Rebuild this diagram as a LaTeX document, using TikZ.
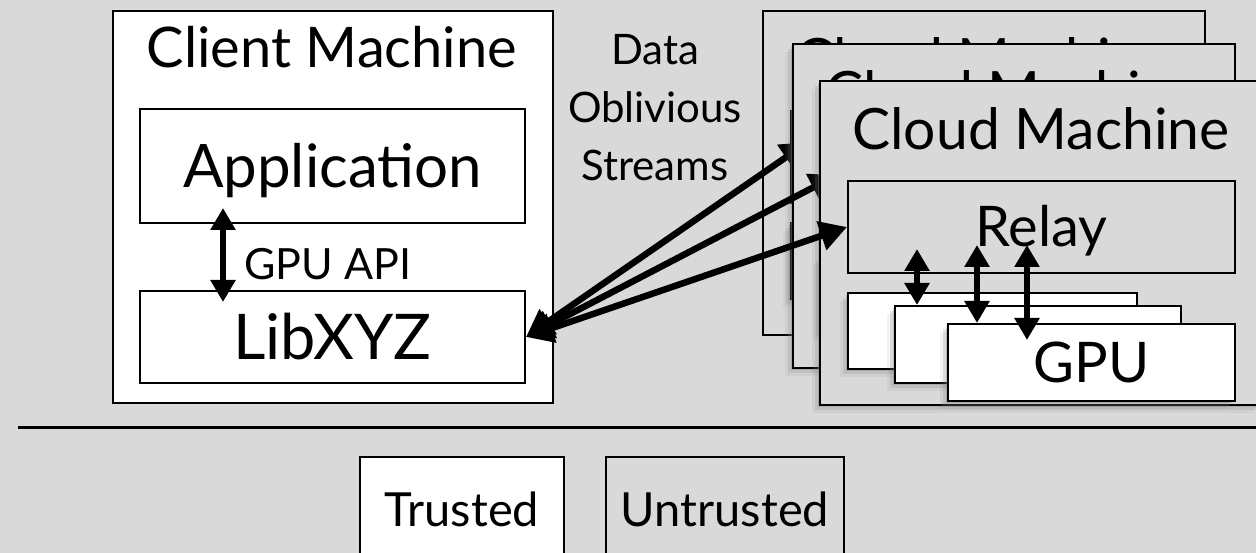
\documentclass[tikz,border=0pt]{standalone}
\usepackage{fontspec}
\setmainfont{Lato}
\usepackage{tikz}
\usetikzlibrary{arrows.meta,shadows,positioning}
\definecolor{bggray}{HTML}{D9D9D9}

\tikzset{
    box/.style={draw, line width=2pt, inner sep=0pt, anchor=north west},
    trusted/.style={box, fill=white},
    untrusted/.style={box, fill=bggray},
    softshadow/.style={
        drop shadow={shadow xshift=-2pt, shadow yshift=-2pt, opacity=.35},
        drop shadow={shadow xshift=-5pt, shadow yshift=-5pt, opacity=.2},
        drop shadow={shadow xshift=-8pt, shadow yshift=-8pt, opacity=.1}},
    noshadow/.style={},
    link/.style={line width=6pt, {Triangle[length=22pt,width=24pt]}-{Triangle[length=22pt,width=24pt]}},
    stream/.style={line width=6.5pt, {Triangle[length=27pt,width=29pt]}-{Triangle[length=27pt,width=29pt]}},
    capc/.style={text height=#1, text depth=0pt},
    titlefont/.style={font=\fontsize{56}{60}\selectfont},
    cloudfont/.style={font=\fontsize{57}{60}\selectfont},
    bigfont/.style={font=\fontsize{60}{64}\selectfont, capc=43pt},
    libfont/.style={font=\fontsize{63}{66}\selectfont, capc=45pt},
    midfont/.style={font=\fontsize{56}{60}\selectfont, capc=40pt},
    keyfont/.style={font=\fontsize{47}{50}\selectfont, capc=34pt},
    apifont/.style={font=\fontsize{43}{46}\selectfont},
    streamfont/.style={font=\fontsize{42}{58}\selectfont}
}

\begin{document}
\begin{tikzpicture}[x=1pt, y=-1pt]
    \fill[bggray] (0,0) rectangle (1256,553);
    \useasboundingbox (0,0) rectangle (1256,553);

    \node[trusted, minimum width=440pt, minimum height=392pt] (client) at (112,10) {};
    \node[titlefont, anchor=base] (client-title) at (332,68) {Client Machine};
    \node[trusted, minimum width=385pt, minimum height=114pt, bigfont] (app) at (139,108) {Application};
    \node[trusted, minimum width=385pt, minimum height=92pt, libfont] (lib) at (139,290) {LibXYZ};
    \draw[link] ([shift={(84,-16)}]app.south west) -- ([shift={(84,12)}]lib.north west);
    \node[apifont, anchor=base west] (api) at (241,280) {GPU API};

    \node[streamfont, align=center, anchor=base] (streams) at (655,181) {Data\\Oblivious\\Streams};

    \foreach \m/\x/\y/\sh/\tip in {a/762/10/noshadow/{(18,-15)}, b/792/43/softshadow/{(17,-15)}, c/819/80/softshadow/{(0,0)}}{
        \node[untrusted, \sh, minimum width=442pt, minimum height=324pt] (\m) at (\x,\y) {};
        \node[cloudfont, anchor=base] (\m-title) at ([shift={(222,70)}]\m.north west) {Cloud Machine};
        \node[untrusted, minimum width=387pt, minimum height=92pt, midfont] (\m-relay) at ([shift={(28,100)}]\m.north west) {Relay};
        \node[trusted, softshadow, minimum width=289pt, minimum height=76pt] (\m-gpu1) at ([shift={(28,212)}]\m.north west) {};
        \node[trusted, softshadow, minimum width=286pt, minimum height=77pt] (\m-gpu2) at ([shift={(75,225)}]\m.north west) {};
        \node[trusted, softshadow, minimum width=287pt, minimum height=77pt, midfont] (\m-gpu3) at ([shift={(128,243)}]\m.north west) {GPU};
        \draw[link] ([shift={(70,-25)}]\m-relay.south west) -- ([shift={(23,0)}]\m-gpu2.north west);
        \draw[link] ([shift={(130,-29)}]\m-relay.south west) -- ([shift={(30,0)}]\m-gpu3.north west);
        \draw[link] ([shift={(180,-29)}]\m-relay.south west) -- ([shift={(80,17)}]\m-gpu3.north west);
        \draw[stream] (lib.east) -- ([shift=\tip]\m-relay.west);
    }

    \draw[line width=3pt] (18,427) -- (1256,427);
    \node[trusted, minimum width=204pt, minimum height=105pt, keyfont] (trust) at (359,456) {Trusted};
    \node[untrusted, minimum width=238pt, minimum height=105pt, keyfont] (untrust) at (605,456) {Untrusted};
\end{tikzpicture}
\end{document}
